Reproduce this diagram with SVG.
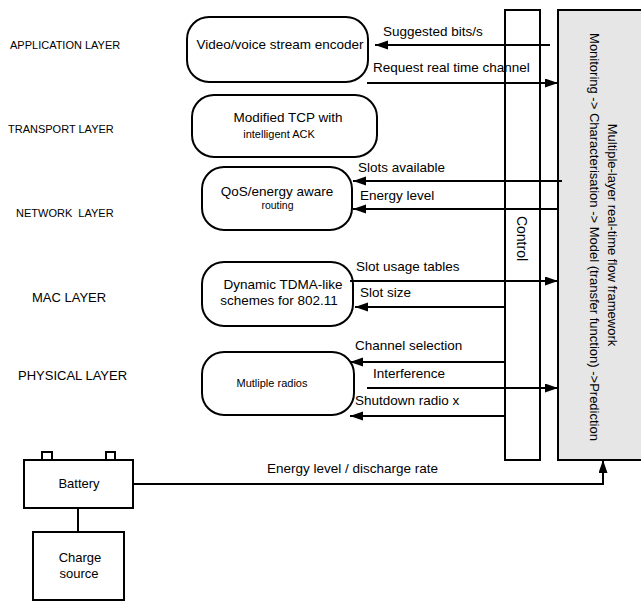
<svg xmlns="http://www.w3.org/2000/svg" width="641" height="602" viewBox="0 0 641 602">
<defs>
<marker id="ah" markerUnits="userSpaceOnUse" markerWidth="14" markerHeight="10" refX="13" refY="4.5" orient="auto">
<path d="M0,0 L13,4.5 L0,9 z" fill="#000"/>
</marker>
<style>
text{font-family:"Liberation Sans",Arial,sans-serif;fill:#000}
.box{fill:#fff;stroke:#000;stroke-width:2}
.lay{font-size:11px}
.lay2{font-size:13px}
.lbl{font-size:13.5px}
.bt{font-size:13.5px;text-anchor:middle}
.st{font-size:11px;text-anchor:middle}
.con{fill:none;stroke:#000;stroke-width:2}
.arr{fill:none;stroke:#000;stroke-width:2;marker-end:url(#ah)}
</style>
</defs>
<rect width="641" height="602" fill="#fff"/>

<g id="layer-labels">
<text class="lay" x="10" y="49">APPLICATION LAYER</text>
<text class="lay" x="8" y="133">TRANSPORT LAYER</text>
<text class="lay" x="16" y="217" xml:space="preserve">NETWORK  LAYER</text>
<text class="lay2" x="32" y="302">MAC LAYER</text>
<text class="lay2" x="18" y="380">PHYSICAL LAYER</text>
</g>

<g id="framework">
<rect x="558" y="10" width="90" height="450" fill="#e6e6e6" stroke="#000" stroke-width="2"/>
<text font-size="13" text-anchor="middle" transform="translate(608,235) rotate(90)">Multiple-layer real-time flow framework</text>
<text font-size="13" text-anchor="middle" transform="translate(590,237) rotate(90)">Monitoring -&gt; Characterisation -&gt; Model (transfer function) -&gt;Prediction</text>
</g>

<g id="control">
<rect class="box" x="505" y="10" width="35" height="450"/>
<text font-size="14" text-anchor="middle" transform="translate(517,238.5) rotate(90)">Control</text>
</g>

<g id="encoder">
<rect class="box" x="187" y="17" width="181" height="65" rx="22" ry="22"/>
<text class="bt" x="280" y="49">Video/voice stream encoder</text>
</g>

<g id="tcp">
<rect class="box" x="192" y="95" width="185" height="62" rx="22" ry="22"/>
<text class="bt" x="288" y="122">Modified TCP with</text>
<text class="st" x="279" y="138">intelligent ACK</text>
</g>

<g id="routing">
<rect class="box" x="202" y="167" width="150" height="63" rx="22" ry="22"/>
<text class="bt" x="277" y="196">QoS/energy aware</text>
<text font-size="10.5" text-anchor="middle" x="277.5" y="209">routing</text>
</g>

<g id="mac">
<rect class="box" x="202" y="262" width="151" height="64" rx="22" ry="22"/>
<text class="bt" x="283" y="289">Dynamic TDMA-like</text>
<text class="bt" x="279" y="305">schemes for 802.11</text>
</g>

<g id="radios">
<rect class="box" x="202" y="352" width="152" height="63" rx="22" ry="22"/>
<text class="st" x="272" y="387">Mutliple radios</text>
</g>

<g id="battery">
<rect class="box" x="42" y="452" width="10" height="8"/>
<rect class="box" x="106" y="452" width="9" height="8"/>
<rect class="box" x="24" y="460" width="109" height="48"/>
<text font-size="13" text-anchor="middle" x="79" y="488">Battery</text>
</g>

<g id="charge-source">
<rect class="box" x="33" y="532" width="91" height="68"/>
<text font-size="13" text-anchor="middle" x="80" y="562">Charge</text>
<text font-size="13" text-anchor="middle" x="79" y="578">source</text>
</g>

<g id="connectors">
<line class="arr" x1="550" y1="45" x2="375" y2="45"/>
<line class="arr" x1="367" y1="83" x2="558" y2="83"/>
<line class="arr" x1="562" y1="181" x2="353" y2="181"/>
<line class="arr" x1="558" y1="209" x2="353" y2="209"/>
<line class="arr" x1="350" y1="281" x2="558" y2="281"/>
<line class="arr" x1="505" y1="307" x2="355" y2="307"/>
<line class="arr" x1="505" y1="362" x2="350" y2="362"/>
<line class="arr" x1="367" y1="388" x2="558" y2="388"/>
<line class="arr" x1="505" y1="416" x2="350" y2="416"/>
<polyline class="arr" points="133,484 603,484 603,460"/>
<line class="con" x1="78" y1="508" x2="78" y2="532"/>
</g>

<g id="connector-labels">
<text class="lbl" x="383" y="36">Suggested bits/s</text>
<text class="lbl" x="373" y="72">Request real time channel</text>
<text class="lbl" x="358" y="172">Slots available</text>
<text class="lbl" x="360" y="200">Energy level</text>
<text class="lbl" x="356" y="271">Slot usage tables</text>
<text class="lbl" x="360" y="297">Slot size</text>
<text class="lbl" x="355" y="350">Channel selection</text>
<text class="lbl" x="373" y="378">Interference</text>
<text class="lbl" x="355" y="405">Shutdown radio x</text>
<text class="lbl" x="267" y="473">Energy level / discharge rate</text>
</g>
</svg>
